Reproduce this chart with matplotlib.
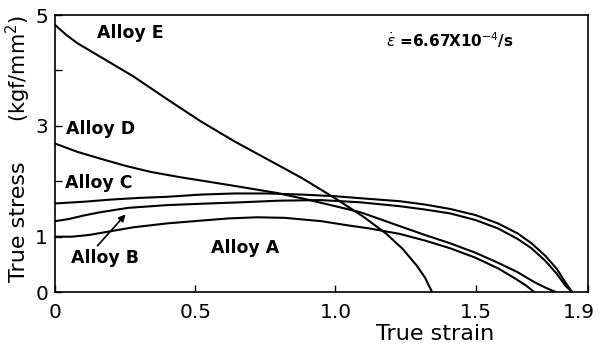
import matplotlib as mpl
import matplotlib.pyplot as plt
import matplotlib.transforms as mtransforms

mpl.rcParams.update({
    "font.family": "DejaVu Sans",
    "axes.linewidth": 1.2,
})

# curves (true strain, true stress in kgf/mm^2)
strain_a = [0, 0.06, 0.12, 0.20, 0.28, 0.40, 0.52, 0.62, 0.72, 0.82, 0.95, 1.05, 1.12, 1.23,
            1.32, 1.41, 1.50, 1.58, 1.64, 1.68, 1.71]
stress_a = [1.00, 1.00, 1.03, 1.10, 1.17, 1.24, 1.29, 1.33, 1.35, 1.34, 1.28, 1.20, 1.15, 1.05,
            0.93, 0.79, 0.62, 0.43, 0.25, 0.12, 0.0]

strain_b = [0, 0.05, 0.10, 0.16, 0.26, 0.40, 0.55, 0.66, 0.80, 0.95, 1.09, 1.23, 1.32, 1.41,
            1.50, 1.58, 1.65, 1.70, 1.75, 1.79, 1.82, 1.845]
stress_b = [1.28, 1.32, 1.38, 1.44, 1.52, 1.57, 1.60, 1.62, 1.65, 1.66, 1.62, 1.55, 1.49, 1.42,
            1.30, 1.15, 0.96, 0.79, 0.56, 0.33, 0.12, 0.0]

strain_c = [0, 0.10, 0.20, 0.30, 0.40, 0.52, 0.64, 0.76, 0.88, 1.00, 1.10, 1.23, 1.32, 1.41,
            1.50, 1.58, 1.65, 1.70, 1.75, 1.79, 1.82, 1.845]
stress_c = [1.60, 1.63, 1.67, 1.70, 1.72, 1.76, 1.78, 1.78, 1.76, 1.73, 1.69, 1.64, 1.58, 1.50,
            1.39, 1.24, 1.06, 0.88, 0.65, 0.42, 0.18, 0.0]

strain_d = [0, 0.08, 0.16, 0.25, 0.34, 0.45, 0.55, 0.66, 0.79, 0.90, 1.00, 1.09, 1.23, 1.32,
            1.41, 1.50, 1.58, 1.65, 1.71, 1.75, 1.787]
stress_d = [2.68, 2.53, 2.41, 2.28, 2.17, 2.07, 1.99, 1.90, 1.79, 1.67, 1.55, 1.44, 1.19, 1.03,
            0.88, 0.71, 0.53, 0.36, 0.18, 0.08, 0.0]

strain_e = [0, 0.04, 0.08, 0.16, 0.28, 0.40, 0.52, 0.64, 0.76, 0.88, 1.00, 1.10, 1.18, 1.24,
            1.29, 1.32, 1.345]
stress_e = [4.82, 4.64, 4.49, 4.25, 3.89, 3.48, 3.08, 2.72, 2.39, 2.06, 1.69, 1.36, 1.06, 0.78,
            0.48, 0.26, 0.0]

xticks = [0, 0.5, 1.0, 1.5, 1.9]
xtick_labels = ["0", "0.5", "1.0", "1.5", "1.9"]
yticks = [0, 1, 2, 3, 4, 5]
ytick_labels = ["0", "1", "", "3", "", "5"]

fig = plt.figure(figsize=(5.99, 3.49), dpi=100)
ax = fig.add_axes([0.092, 0.163, 0.889, 0.794])

for xs, ys in [(strain_a, stress_a), (strain_b, stress_b), (strain_c, stress_c),
               (strain_d, stress_d), (strain_e, stress_e)]:
    ax.plot(xs, ys, color="black", lw=1.5, solid_capstyle="round")

ax.set_xlim(0, 1.9)
ax.set_ylim(0, 5)
ax.set_xticks(xticks)
ax.set_xticklabels(xtick_labels)
ax.set_yticks(yticks)
ax.set_yticklabels(ytick_labels)
ax.tick_params(direction="in", length=5, width=1, labelsize=14.5)
ax.tick_params(axis="x", pad=8)
ax.tick_params(axis="y", pad=5)

# last x label sits on the figure edge, nudge it in a little
last = ax.get_xticklabels()[-1]
last.set_transform(last.get_transform() + mtransforms.ScaledTranslation(-6 / 72, 0, fig.dpi_scale_trans))

lab = dict(fontsize=12.5, fontweight="bold", va="center")
ax.text(0.15, 4.67, "Alloy E", **lab)
ax.text(0.04, 2.95, "Alloy D", **lab)
ax.text(0.035, 1.96, "Alloy C", **lab)
ax.text(0.057, 0.62, "Alloy B", **lab)
ax.text(0.555, 0.80, "Alloy A", **lab)
ax.annotate("", xy=(0.258, 1.44), xytext=(0.145, 0.80),
            arrowprops=dict(arrowstyle="-|>", lw=1.2, color="black", mutation_scale=10))
ax.text(1.18, 4.55, r"$\dot{\varepsilon}$ =6.67X10$^{-4}$/s", fontsize=11,
        fontweight="bold", va="center")

ax.text(0.713, -0.152, "True strain", transform=ax.transAxes, ha="center", va="center",
        fontsize=16)
ax.text(-0.068, 0.035, "True stress", transform=ax.transAxes, rotation=90,
        ha="center", va="bottom", fontsize=16)
ax.text(-0.068, 1.0, "(kgf/mm$^2$)", transform=ax.transAxes, rotation=90,
        ha="center", va="top", fontsize=15)

fig.savefig("out.png", dpi=100)
